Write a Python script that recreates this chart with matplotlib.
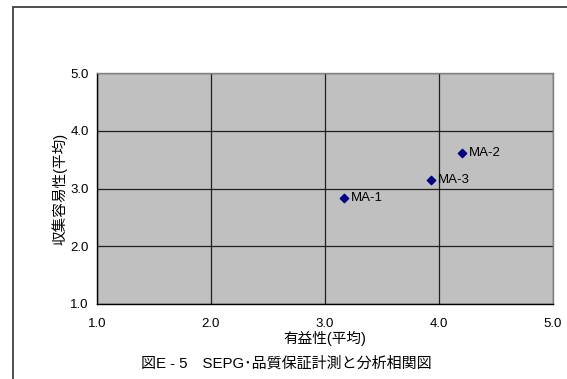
import matplotlib
matplotlib.use("Agg")
import matplotlib.pyplot as plt
from matplotlib.patches import Rectangle

plt.rcParams['font.family'] = ['Liberation Sans', 'Noto Sans CJK JP', 'DejaVu Sans']

# data
names = ['MA-1', 'MA-2', 'MA-3']
usefulness = [3.17, 4.20, 3.93]      # 有益性(平均)
ease = [2.84, 3.61, 3.14]            # 収集容易性(平均)
ticks = [1.0, 2.0, 3.0, 4.0, 5.0]
tick_labels = ['1.0', '2.0', '3.0', '4.0', '5.0']

W, H = 567, 379
fig = plt.figure(figsize=(W / 100, H / 100), dpi=100)

# outer chart frame (runs past the right and bottom edges)
fig.patches.append(Rectangle((13 / W, -0.05), 1.2, (H - 7) / H + 0.05,
                             transform=fig.transFigure, fill=False,
                             edgecolor='#404040', linewidth=1.3))

# plot area
left, right, top, bottom = 97, 553, 73, 304
ax = fig.add_axes([left / W, 1 - bottom / H, (right - left) / W, (bottom - top) / H])
ax.set_facecolor('#C0C0C0')
ax.set_xlim(1, 5)
ax.set_ylim(1, 5)
ax.set_xticks(ticks)
ax.set_yticks(ticks)
ax.set_xticklabels(tick_labels)
ax.set_yticklabels(tick_labels)
ax.tick_params(length=0, labelsize=9.5, colors='black', pad=6)
ax.tick_params(axis='x', pad=10)
ax.grid(True, color='#202020', linewidth=0.9)
ax.set_axisbelow(True)
for s in ['left', 'bottom']:
    ax.spines[s].set_color('black')
    ax.spines[s].set_linewidth(1.0)
for s in ['top', 'right']:
    ax.spines[s].set_color('#808080')
    ax.spines[s].set_linewidth(1.0)

ax.scatter(usefulness, ease, marker='D', s=18, color='#000080', zorder=3)
for n, xv, yv in zip(names, usefulness, ease):
    ax.annotate(n, (xv, yv), xytext=(5, 0), textcoords='offset points',
                va='center', ha='left', fontsize=9.5)

ax.set_xlabel('有益性(平均)', fontsize=10.5, labelpad=1)
ax.set_ylabel('収集容易性(平均)', fontsize=10.5, labelpad=2)

fig.text(286 / W, 1 - 364 / H, '図E - 5\u3000SEPG･品質保証計測と分析相関図',
         ha='center', va='center', fontsize=10.8)

fig.savefig('out.png', dpi=100)
